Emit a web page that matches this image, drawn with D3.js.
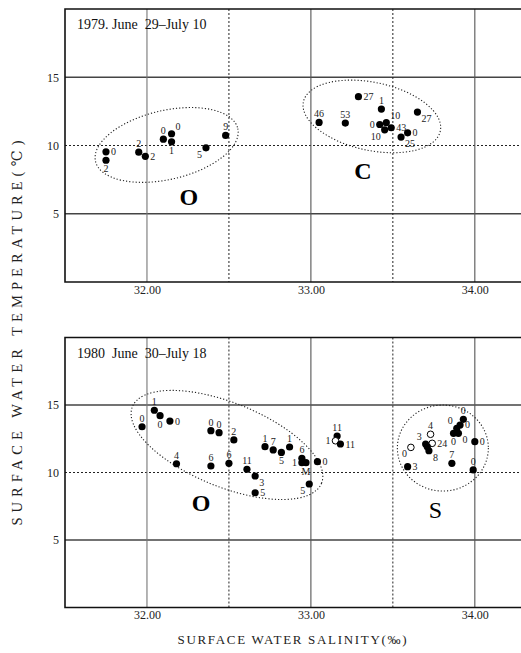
<!DOCTYPE html>
<html>
<head>
<meta charset="utf-8">
<script src="https://cdn.jsdelivr.net/npm/d3@7"></script>
<style>
  body { margin: 0; background: #fff; }
  svg { font-family: "Liberation Serif", "DejaVu Serif", serif; }
</style>
</head>
<body>
<div class="container"></div>
<script>
// 1979 panel
var sal1979 = [31.75, 31.75, 31.95, 31.99, 32.10, 32.15, 32.15, 32.36, 32.48,
    33.29, 33.43, 33.05, 33.21, 33.42, 33.46, 33.45, 33.49, 33.55, 33.59, 33.65];
var temp1979 = [9.54, 8.92, 9.51, 9.21, 10.46, 10.86, 10.27, 9.83, 10.74,
    13.58, 12.67, 11.69, 11.64, 11.54, 11.67, 11.15, 11.30, 10.62, 10.93, 12.45];
var lab1979 = ['0', '2', '2', '2', '0', '0', '1', '5', '9',
    '27', '1', '46', '53', '0', '10', '10', '43', '25', '0', '27'];
var side1979 = ['r', 'b', 't', 'r', 't', 'tr', 'b', 'bl', 't',
    'r', 't', 't', 't', 'l', 'tr', 'bl', 'r', 'br', 'r', 'br'];
var open1979 = [];

// 1980 panel
var sal1980 = [31.97, 32.045, 32.08, 32.14, 32.39, 32.44, 32.53, 32.18, 32.39, 32.50,
    32.61, 32.66, 32.66, 32.72, 32.77, 32.82, 32.87, 32.945, 32.945, 32.97,
    33.04, 32.99, 33.16, 33.15, 33.18,
    33.59, 33.61, 33.73, 33.70, 33.74, 33.71, 33.72, 33.86, 33.93, 33.91,
    33.89, 33.90, 33.87, 34.00, 33.99];
var temp1980 = [13.39, 14.61, 14.21, 13.81, 13.10, 12.95, 12.41, 10.65, 10.48, 10.68,
    10.24, 9.74, 8.50, 11.91, 11.67, 11.49, 11.89, 11.05, 10.73, 10.73,
    10.80, 9.15, 12.70, 12.35, 12.11,
    10.43, 11.86, 12.83, 12.11, 12.16, 11.91, 11.61, 10.68, 13.94, 13.52,
    13.27, 12.90, 12.90, 12.28, 10.19];
var lab1980 = ['0', '1', '0', '0', '0', '0', '2', '4', '6', '6',
    '11', '3', '5', '1', '7', '5', '1', '6', '1', 'M',
    '0', '5', '11', '1', '11',
    '3', '0', '4', '3', '24', '', '8', '7', '0', '0',
    '0', '0', '0', '0', '0'];
var side1980 = ['t', 't', 'b', 'r', 't', 't', 't', 't', 't', 't',
    't', 'br', 'r', 't', 't', 'b', 't', 't', 'l', 'b',
    'r', 'bl', 't', 'l', 'r',
    'r', 'bl', 't', 'tl', 'r', 'r', 'br', 't', 't', 'r',
    'tl', 'br', 'b', 'r', 't'];
var open1980 = [23, 26, 27, 29];

var xTicks = [32, 33, 34];
var yTicks = [5, 10, 15];
var titles = ['1979. June  29\u2013July 10', '1980  June  30\u2013July 18'];

var groupNames1979 = ['O', 'C'];
var groupSal1979 = [32.256, 33.317];
var groupTemp1979 = [6.21, 8.11];
var groupNames1980 = ['O', 'S'];
var groupSal1980 = [32.33, 33.76];
var groupTemp1980 = [7.74, 7.22];

// dotted outlines round the groups: centre in data units, radii in px
var rings1979 = [
    {sal: 32.12, temp: 10.04, rx: 73, ry: 34.5, angle: -13},
    {sal: 33.372, temp: 12.13, rx: 70, ry: 34, angle: 12}
];
var rings1980 = [
    {sal: 32.488, temp: 12.04, rx: 102, ry: 42, angle: 22},
    {sal: 33.805, temp: 11.81, rx: 45.5, ry: 43, angle: 0}
];

var labelOffset = {
    r: [5, 3.5, 'start'], l: [-5, 3.5, 'end'], t: [0, -5, 'middle'], b: [0, 12, 'middle'],
    tr: [4, -4, 'start'], tl: [-4, -4, 'end'], br: [4, 10, 'start'], bl: [-4, 10, 'end']
};

var svg = d3.select('.container').append('svg')
    .attr('width', 521)
    .attr('height', 653);

var xScale = d3.scaleLinear().domain([31.5, 34.3]).range([65, 524]);

var drawPanel = function (yTop, yBottom, p) {
    var yScale = d3.scaleLinear().domain([0, 20]).range([yBottom, yTop]);
    var g = svg.append('g');

    // horizontal grid
    yTicks.forEach(function (t) {
        g.append('line')
            .attr('x1', xScale(31.5)).attr('x2', xScale(34.3))
            .attr('y1', yScale(t)).attr('y2', yScale(t))
            .attr('stroke', t === 10 ? '#222' : '#444')
            .attr('stroke-width', t === 10 ? 1 : 1.4)
            .attr('stroke-dasharray', t === 10 ? '2,2' : null);
    });
    // vertical grid
    [32, 32.5, 33, 33.5, 34].forEach(function (t) {
        var dotted = (t % 1) !== 0;
        g.append('line')
            .attr('x1', xScale(t)).attr('x2', xScale(t))
            .attr('y1', yScale(20)).attr('y2', yScale(0))
            .attr('stroke', dotted ? '#222' : (t === 32 ? '#777' : '#555'))
            .attr('stroke-width', dotted ? 1 : 1.1)
            .attr('stroke-dasharray', dotted ? '2,2' : null);
    });
    // frame
    g.append('path')
        .attr('d', 'M' + xScale(34.3) + ',' + yScale(20) + 'H' + xScale(31.5) +
            'V' + yScale(0) + 'H' + xScale(34.3))
        .attr('fill', 'none')
        .attr('stroke', '#111')
        .attr('stroke-width', 1.6);

    var yAxis = d3.axisLeft(yScale).tickValues(yTicks).tickSize(0).tickPadding(6);
    var ya = g.append('g').attr('transform', 'translate(' + xScale(31.5) + ',0)').call(yAxis);
    var xAxis = d3.axisBottom(xScale).tickValues(xTicks).tickSize(0).tickPadding(3)
        .tickFormat(d3.format('.2f'));
    var xa = g.append('g').attr('transform', 'translate(0,' + yScale(0) + ')').call(xAxis);
    [ya, xa].forEach(function (a) {
        a.select('.domain').remove();
        a.selectAll('text')
            .attr('font-family', '"Liberation Serif", serif')
            .attr('font-size', 12)
            .attr('fill', '#222');
    });

    g.append('text')
        .attr('x', 77).attr('y', yScale(20) + 20)
        .attr('font-size', 14)
        .attr('fill', '#111')
        .style('white-space', 'pre')
        .text(p.title);

    g.selectAll('ellipse.ring')
        .data(p.rings)
        .enter()
        .append('ellipse')
        .attr('cx', function (d) { return xScale(d.sal); })
        .attr('cy', function (d) { return yScale(d.temp); })
        .attr('rx', function (d) { return d.rx; })
        .attr('ry', function (d) { return d.ry; })
        .attr('transform', function (d) {
            return 'rotate(' + d.angle + ',' + xScale(d.sal) + ',' + yScale(d.temp) + ')';
        })
        .attr('fill', 'none')
        .attr('stroke', '#222')
        .attr('stroke-width', 1.1)
        .attr('stroke-dasharray', '1.2,2');

    var idx = d3.range(p.sal.length);
    g.selectAll('circle.pt')
        .data(idx)
        .enter()
        .append('circle')
        .attr('cx', function (i) { return xScale(p.sal[i]); })
        .attr('cy', function (i) { return yScale(p.temp[i]); })
        .attr('r', function (i) { return p.open.indexOf(i) >= 0 ? 3.3 : 3.6; })
        .attr('fill', function (i) { return p.open.indexOf(i) >= 0 ? '#fff' : '#000'; })
        .attr('stroke', '#000')
        .attr('stroke-width', function (i) { return p.open.indexOf(i) >= 0 ? 1 : 0; });

    g.selectAll('text.lab')
        .data(idx)
        .enter()
        .append('text')
        .attr('x', function (i) { return xScale(p.sal[i]) + labelOffset[p.side[i]][0]; })
        .attr('y', function (i) { return yScale(p.temp[i]) + labelOffset[p.side[i]][1]; })
        .attr('text-anchor', function (i) { return labelOffset[p.side[i]][2]; })
        .attr('font-size', 10)
        .attr('fill', '#222')
        .text(function (i) { return p.lab[i]; });

    p.groups.forEach(function (name, i) {
        g.append('text')
            .attr('x', xScale(p.groupSal[i]))
            .attr('y', yScale(p.groupTemp[i]) + 8)
            .attr('text-anchor', 'middle')
            .attr('font-size', 24)
            .attr('font-weight', name === 'S' ? 'normal' : 'bold')
            .attr('fill', '#000')
            .text(name);
    });
};

drawPanel(9, 282, {
    title: titles[0], sal: sal1979, temp: temp1979, lab: lab1979, side: side1979,
    open: open1979, rings: rings1979, groups: groupNames1979,
    groupSal: groupSal1979, groupTemp: groupTemp1979
});
drawPanel(337.5, 607.5, {
    title: titles[1], sal: sal1980, temp: temp1980, lab: lab1980, side: side1980,
    open: open1980, rings: rings1980, groups: groupNames1980,
    groupSal: groupSal1980, groupTemp: groupTemp1980
});

svg.append('text')
    .attr('transform', 'translate(22,333) rotate(-90)')
    .attr('text-anchor', 'middle')
    .attr('font-size', 14.5)
    .attr('fill', '#222')
    .attr('textLength', 385)
    .attr('lengthAdjust', 'spacing')
    .text('SURFACE WATER TEMPERATURE(\u2103)');

svg.append('text')
    .attr('x', 292).attr('y', 644)
    .attr('text-anchor', 'middle')
    .attr('font-size', 13)
    .attr('fill', '#222')
    .attr('textLength', 229)
    .attr('lengthAdjust', 'spacing')
    .text('SURFACE WATER SALINITY(\u2030)');
</script>
</body>
</html>
